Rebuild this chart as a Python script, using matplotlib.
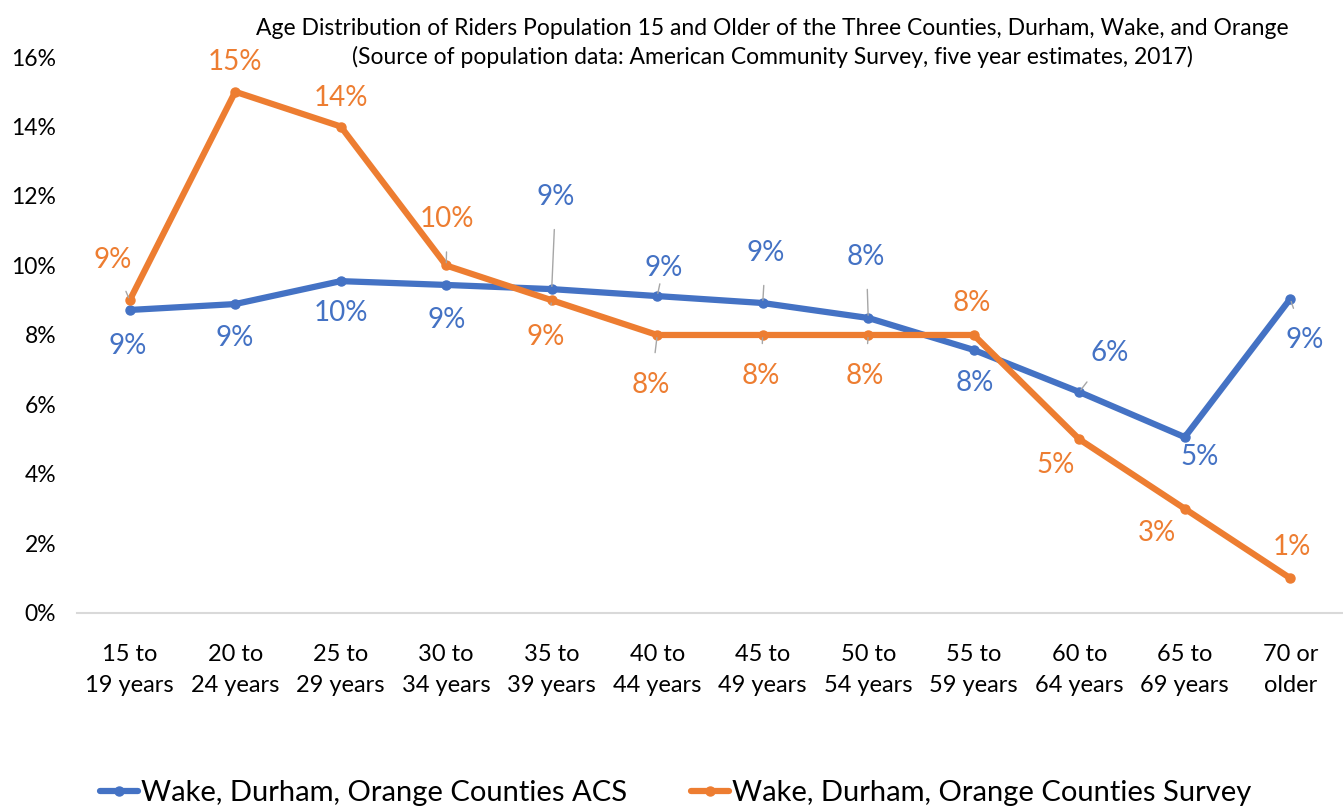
import matplotlib
matplotlib.use("Agg")
import matplotlib.pyplot as plt
from matplotlib.ticker import PercentFormatter

# data
categories = ["15 to\n19 years", "20 to\n24 years", "25 to\n29 years", "30 to\n34 years",
              "35 to\n39 years", "40 to\n44 years", "45 to\n49 years", "50 to\n54 years",
              "55 to\n59 years", "60 to\n64 years", "65 to\n69 years", "70 or\nolder"]
acs = [8.72, 8.89, 9.55, 9.44, 9.32, 9.12, 8.92, 8.49, 7.57, 6.36, 5.06, 9.04]
survey = [9.0, 15.0, 14.0, 10.0, 9.0, 8.0, 8.0, 8.0, 8.0, 5.0, 3.0, 1.0]
acs_name = "Wake, Durham, Orange Counties ACS"
survey_name = "Wake, Durham, Orange Counties Survey"
title = ("Age Distribution of Riders Population 15 and Older of the Three Counties, Durham, Wake, and Orange\n"
         "(Source of population data: American Community Survey, five year estimates, 2017)")

# label placement (pixel offsets from the point) and which labels have leader lines
acs_off = [(-2, -36), (-1, -34), (0, -32), (0, -35), (4, 92), (6, 28), (3, 50), (-2, 61),
           (1, -33), (30, 39), (15, -20), (14, -41)]
acs_lead = [False, False, False, False, True, True, True, True, False, True, False, True]
srv_off = [(-17, 40), (0, 30), (0, 29), (1, 46), (-6, -37), (-6, -50), (-2, -41), (-3, -41),
           (-2, 32), (-24, -26), (-28, -24), (2, 31)]
srv_lead = [True, False, False, True, True, True, True, True, False, False, False, False]

BLUE = "#4472C4"
ORANGE = "#ED7D31"
plt.rcParams['font.family'] = ['Lato', 'DejaVu Sans']

fig = plt.figure(figsize=(13.43, 8.11), dpi=100)
ax = fig.add_axes([0.0573, 0.2442, 0.9427, 0.6855])

x = list(range(len(categories)))
ax.plot(x, acs, color=BLUE, lw=4.5, marker='o', ms=6.5, label=acs_name, solid_capstyle='round')
ax.plot(x, survey, color=ORANGE, lw=4.5, marker='o', ms=6.5, label=survey_name, solid_capstyle='round')

def add_labels(vals, offs, leads, color):
    for i, v in enumerate(vals):
        arrow = None
        if leads[i]:
            arrow = dict(arrowstyle='-', color='#A6A6A6', lw=1, shrinkA=12, shrinkB=2)
        ax.annotate(f"{v:.0f}%", (i, v), xytext=offs[i], textcoords='offset pixels',
                    ha='center', va='center', fontsize=20, color=color, arrowprops=arrow)

add_labels(acs, acs_off, acs_lead, BLUE)
add_labels(survey, srv_off, srv_lead, ORANGE)

ax.set_xlim(-0.5, 11.5)
ax.set_ylim(0, 16)
ax.set_yticks(range(0, 17, 2))
ax.yaxis.set_major_formatter(PercentFormatter(decimals=0))
ax.set_xticks(x)
ax.set_xticklabels(categories, fontsize=17, linespacing=1.6)
ax.tick_params(axis='y', labelsize=16.5, length=0, pad=15)
ax.tick_params(axis='x', length=0, pad=22)
for s in ['top', 'right', 'left']:
    ax.spines[s].set_visible(False)
ax.spines['bottom'].set_color('#D9D9D9')
ax.spines['bottom'].set_linewidth(1.5)
ax.set_clip_on(False)

fig.text(0.575, 0.978, title, ha='center', va='top', fontsize=16.5, linespacing=1.4)

fig.legend(loc='center', bbox_to_anchor=(0.503, 0.022), ncol=2, frameon=False,
           fontsize=21, handlelength=1.3, handletextpad=0.1, columnspacing=2.2)

fig.savefig("out.png", dpi=100)
